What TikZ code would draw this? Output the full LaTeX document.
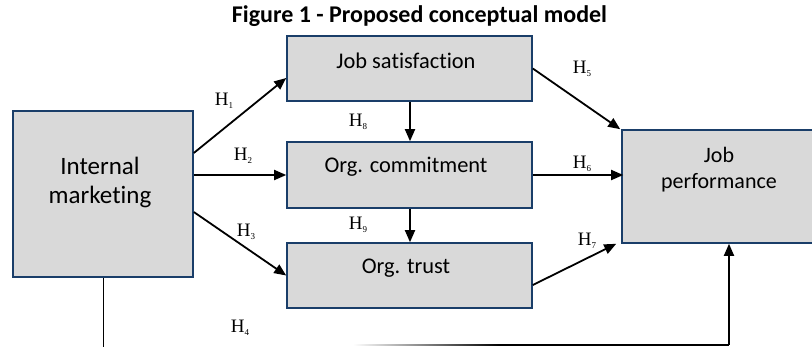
\documentclass[tikz,border=0pt]{standalone}
\usepackage{fontspec}
\setmainfont{Carlito}[Ligatures=NoCommon]
\newfontfamily\hfont{Liberation Serif}
\usetikzlibrary{arrows.meta}
\definecolor{boxfill}{RGB}{217,217,217}
\definecolor{boxline}{RGB}{26,62,105}
\tikzset{
  box/.style={draw=boxline, fill=boxfill, line width=1.6pt, inner sep=0pt},
  boxtext/.style={font=\fontsize{22.4}{26}\selectfont, align=center, inner sep=0pt},
  arr/.style={line width=1.8pt, -{Triangle[length=12pt,width=10pt]}},
  hlab/.style={font=\hfont\fontsize{19}{19}\selectfont, inner sep=0pt},
}
\newcommand{\hyp}[1]{H\raisebox{-3.5pt}{\fontsize{9}{9}\selectfont #1}}
\begin{document}
\begin{tikzpicture}[x=1pt,y=-1pt]
\clip (0,0) rectangle (812,346);
\fill[white] (0,0) rectangle (812,346);

% title
\node[font=\bfseries\fontsize{24}{24}\selectfont, inner sep=0pt] (title) at (419.5,16) {Figure 1 - Proposed conceptual model};

% boxes
\node[box, minimum width=180pt, minimum height=166pt] (im) at (103,194) {};
\node[box, minimum width=245pt, minimum height=65pt] (js) at (409.5,68.5) {};
\node[box, minimum width=245pt, minimum height=66pt] (oc) at (409.5,175) {};
\node[box, minimum width=245pt, minimum height=65pt] (ot) at (409.5,275.5) {};
\node[box, minimum width=196pt, minimum height=113pt] (jp) at (720,186.5) {};

% box texts
\node[boxtext, font=\fontsize{25}{29}\selectfont] (imt) at (100,182.5) {Internal\\marketing};
\node[boxtext] (jst) at (406,61) {Job satisfaction};
\node[boxtext] (oct) at (406,167) {Org. commitment};
\node[boxtext] (ott) at (406,268) {Org. trust};
\node[boxtext, font=\fontsize{22}{26}\selectfont] (jpt) at (719,170) {Job\\performance};

% paths from internal marketing
\draw[arr] ([yshift=41pt]im.east) -- ([yshift=-9.5pt]js.west);
\draw[arr] ([yshift=19pt]im.east) -- (oc.west);
\draw[arr] ([yshift=-18pt]im.east) -- (ot.west);

% paths between mediators
\draw[arr] ([xshift=0.5pt]js.south) -- ([xshift=0.5pt]oc.north);
\draw[arr] ([xshift=0.5pt]oc.south) -- ([xshift=0.5pt]ot.north);

% paths to job performance
\draw[arr] (js.east) -- ([xshift=-1pt]jp.north west);
\draw[arr] (oc.east) -- ([yshift=11.5pt,xshift=2pt]jp.west);
\draw[arr] ([yshift=-9.5pt]ot.east) -- ([xshift=-5pt]jp.south west);

% direct path H4
\coordinate (h4a) at (353,345);
\coordinate (h4m) at (500,345);
\coordinate (h4b) at (729,345);
\draw[line width=1pt] (im.south) -- ++(0,75);
\shade[left color=white, right color=black] (353,344.2) rectangle (500,345.8);
\draw[line width=1.6pt] (h4m) -- (h4b);
\draw[arr] (h4b) -- (h4b |- jp.south);

% hypothesis labels
\node[hlab] (h1) at (224,101) {\hyp{1}};
\node[hlab] (h2) at (243,156) {\hyp{2}};
\node[hlab] (h3) at (246,232) {\hyp{3}};
\node[hlab] (h4) at (240,328) {\hyp{4}};
\node[hlab] (h5) at (582,69) {\hyp{5}};
\node[hlab] (h6) at (582,164) {\hyp{6}};
\node[hlab] (h7) at (587,241) {\hyp{7}};
\node[hlab] (h8) at (358,122) {\hyp{8}};
\node[hlab] (h9) at (358,225) {\hyp{9}};
\end{tikzpicture}
\end{document}
